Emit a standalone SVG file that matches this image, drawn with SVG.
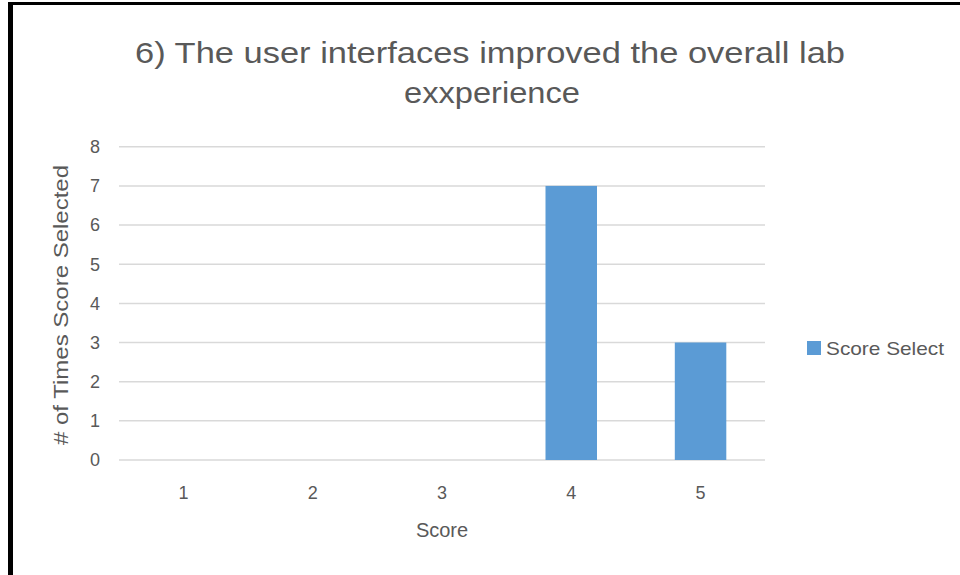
<svg xmlns="http://www.w3.org/2000/svg" width="960" height="575" viewBox="0 0 960 575">
<style>
text{font-family:"Liberation Sans","Open Sans",sans-serif;fill:#595959}
.grid{stroke:#D9D9D9;stroke-width:1.5}
.bar{fill:#5B9BD5}
.tick{font-size:18px}
</style>
<rect width="960" height="575" fill="#fff"/>
<rect x="8" y="2" width="952" height="3" fill="#000"/>
<rect x="8" y="2" width="5" height="573" fill="#000"/>
<g id="title">
<text x="490" y="63" font-size="30" text-anchor="middle" textLength="710" lengthAdjust="spacingAndGlyphs">6) The user interfaces improved the overall lab</text>
<text x="492" y="103" font-size="30" text-anchor="middle" textLength="176" lengthAdjust="spacingAndGlyphs">exxperience</text>
</g>
<g id="gridlines">
<line class="grid" x1="119" y1="146.7" x2="765" y2="146.7"/>
<line class="grid" x1="119" y1="185.9" x2="765" y2="185.9"/>
<line class="grid" x1="119" y1="225" x2="765" y2="225"/>
<line class="grid" x1="119" y1="264.2" x2="765" y2="264.2"/>
<line class="grid" x1="119" y1="303.4" x2="765" y2="303.4"/>
<line class="grid" x1="119" y1="342.5" x2="765" y2="342.5"/>
<line class="grid" x1="119" y1="381.7" x2="765" y2="381.7"/>
<line class="grid" x1="119" y1="420.8" x2="765" y2="420.8"/>
<line class="grid" x1="119" y1="460" x2="765" y2="460"/>
</g>
<g id="y-labels" class="tick" text-anchor="end">
<text x="100" y="153">8</text>
<text x="100" y="192.2">7</text>
<text x="100" y="231.3">6</text>
<text x="100" y="270.5">5</text>
<text x="100" y="309.7">4</text>
<text x="100" y="348.8">3</text>
<text x="100" y="388">2</text>
<text x="100" y="427.1">1</text>
<text x="100" y="466.3">0</text>
</g>
<g id="bars">
<rect class="bar" x="545.5" y="185.9" width="51.5" height="274.1"/>
<rect class="bar" x="674.8" y="342.5" width="51.5" height="117.5"/>
</g>
<g id="x-labels" class="tick" text-anchor="middle">
<text x="183.6" y="499">1</text>
<text x="312.8" y="499">2</text>
<text x="442" y="499">3</text>
<text x="571.2" y="499">4</text>
<text x="700.4" y="499">5</text>
</g>
<text id="x-title" x="442" y="537" font-size="20" text-anchor="middle">Score</text>
<text id="y-title" transform="translate(68,305) rotate(-90)" font-size="20" text-anchor="middle" textLength="280" lengthAdjust="spacingAndGlyphs"># of Times Score Selected</text>
<g id="legend">
<rect class="bar" x="807" y="341" width="14" height="14"/>
<text x="826" y="355" font-size="19" textLength="118" lengthAdjust="spacingAndGlyphs">Score Select</text>
</g>
</svg>
